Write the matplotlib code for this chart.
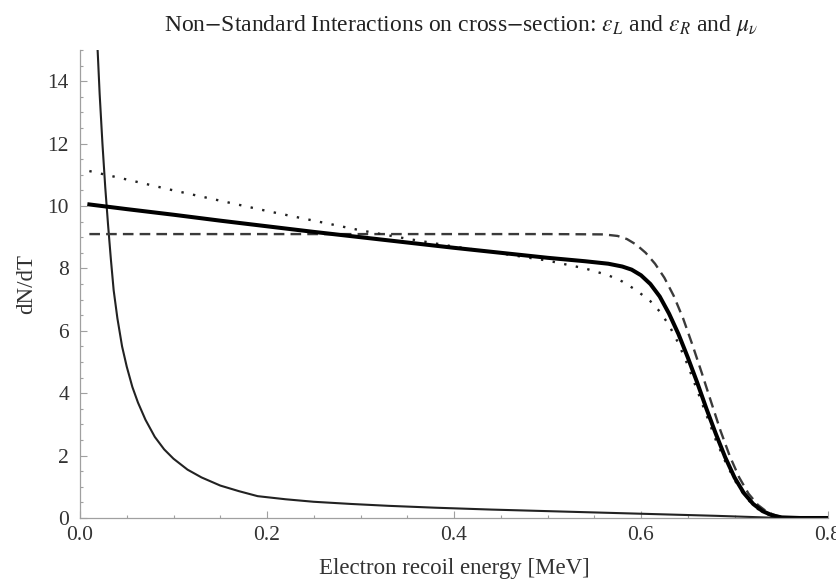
import numpy as np
import matplotlib
matplotlib.use('Agg')
import matplotlib.pyplot as plt
from matplotlib.ticker import MultipleLocator, FixedFormatter, FixedLocator

plt.rcParams['font.family'] = ['Liberation Serif', 'DejaVu Serif']
plt.rcParams['mathtext.fontset'] = 'stix'

# Standard spectrum (thick solid)
T_sm = [0.01, 0.05, 0.10, 0.15, 0.20, 0.25, 0.30, 0.35, 0.40, 0.45, 0.50, 0.54,
        0.565, 0.58, 0.59, 0.60, 0.61, 0.62, 0.63, 0.64, 0.65, 0.66, 0.67, 0.68,
        0.69, 0.70, 0.71, 0.72, 0.73, 0.74, 0.75, 0.77, 0.80]
dN_sm = [10.05, 9.90, 9.72, 9.53, 9.35, 9.17, 9.00, 8.83, 8.66, 8.50, 8.34, 8.23,
         8.15, 8.06, 7.96, 7.78, 7.50, 7.10, 6.55, 5.90, 5.15, 4.35, 3.50, 2.70,
         1.95, 1.30, 0.80, 0.45, 0.22, 0.09, 0.02, 0.0, 0.0]

# epsilon_L spectrum (dotted)
T_eL = [0.01, 0.05, 0.10, 0.15, 0.20, 0.25, 0.30, 0.35, 0.40, 0.45, 0.50, 0.54,
        0.565, 0.58, 0.595, 0.61, 0.62, 0.63, 0.64, 0.65, 0.66, 0.67, 0.68, 0.69,
        0.70, 0.71, 0.72, 0.73, 0.74, 0.75, 0.77]
dN_eL = [11.12, 10.85, 10.50, 10.17, 9.84, 9.53, 9.22, 8.95, 8.70, 8.48, 8.25, 8.00,
         7.78, 7.58, 7.30, 6.95, 6.62, 6.18, 5.60, 4.90, 4.10, 3.30, 2.50, 1.82,
         1.22, 0.75, 0.40, 0.18, 0.07, 0.02, 0.0]

# epsilon_R spectrum (dashed)
T_eR = [0.01, 0.10, 0.20, 0.30, 0.40, 0.50, 0.56, 0.575, 0.585, 0.595, 0.605, 0.615,
        0.625, 0.635, 0.645, 0.655, 0.665, 0.675, 0.685, 0.695, 0.705, 0.715, 0.725,
        0.735, 0.745, 0.755, 0.77]
dN_eR = [9.10, 9.10, 9.10, 9.10, 9.10, 9.10, 9.09, 9.04, 8.94, 8.76, 8.50, 8.15,
         7.70, 7.12, 6.40, 5.55, 4.65, 3.72, 2.80, 1.98, 1.30, 0.78, 0.42,
         0.19, 0.07, 0.02, 0.0]

# magnetic moment contribution (thin solid)
T_mu = [0.017, 0.019, 0.021, 0.024, 0.027, 0.030, 0.033, 0.036, 0.040, 0.045,
        0.050, 0.056, 0.062, 0.070, 0.080, 0.090, 0.100, 0.115, 0.130, 0.150,
        0.170, 0.190, 0.220, 0.250, 0.290, 0.330, 0.380, 0.440, 0.500, 0.560,
        0.620, 0.680, 0.720, 0.750, 0.800]
dN_mu = [16.1, 14.9, 13.6, 12.0, 10.6, 9.4, 8.3, 7.3, 6.4, 5.5,
         4.85, 4.2, 3.7, 3.15, 2.6, 2.2, 1.9, 1.55, 1.3, 1.04,
         0.86, 0.70, 0.60, 0.52, 0.45, 0.39, 0.33, 0.27, 0.22, 0.17,
         0.12, 0.07, 0.03, 0.0, 0.0]

fig = plt.figure(figsize=(8.36, 5.82), dpi=100)
ax = fig.add_axes([80 / 836, 64 / 582, 748 / 836, 468 / 582])

ax.plot(T_mu, dN_mu, color='#222222', lw=1.5)
ax.plot(T_eR, dN_eR, color='#3a3a3a', lw=1.7, dashes=(4.5, 2.6))
ax.plot(T_eL, dN_eL, color='#222222', lw=1.7, dashes=(1.0, 4.0))
ax.plot(T_sm, dN_sm, color='black', lw=2.9)

ax.set_xlim(0, 0.8)
ax.set_ylim(0, 15)

for s in ['top', 'right']:
    ax.spines[s].set_visible(False)
for s in ['left', 'bottom']:
    ax.spines[s].set_color('#a0a0a0')
    ax.spines[s].set_linewidth(0.9)

ax.xaxis.set_major_locator(FixedLocator([0.0, 0.2, 0.4, 0.6, 0.8]))
ax.xaxis.set_major_formatter(FixedFormatter(['0.0', '0.2', '0.4', '0.6', '0.8']))
ax.xaxis.set_minor_locator(MultipleLocator(0.05))
ax.yaxis.set_major_locator(MultipleLocator(2))
ax.yaxis.set_minor_locator(MultipleLocator(0.5))

ax.tick_params(which='both', direction='in', color='#a0a0a0', width=0.8,
               labelsize=15.5, labelcolor='#333333')
ax.tick_params(which='major', length=5)
ax.tick_params(which='minor', length=2.5)
ax.tick_params(axis='x', pad=6)
ax.tick_params(axis='y', pad=8)

ax.set_xlabel('Electron recoil energy [MeV]', fontsize=16.5, color='#333333')
ax.xaxis.set_label_coords(0.5, -0.085)
ax.set_ylabel('dN/dT', fontsize=16.5, color='#333333', va='center')
ax.yaxis.set_label_coords(-0.071, 0.5)
ax.set_title(r'Non$-$Standard Interactions on cross$-$section: $\varepsilon_L$ and $\varepsilon_R$ and $\mu_\nu$',
             fontsize=17, color='#222222', pad=14, x=0.51)

fig.savefig('out.png', dpi=100)
